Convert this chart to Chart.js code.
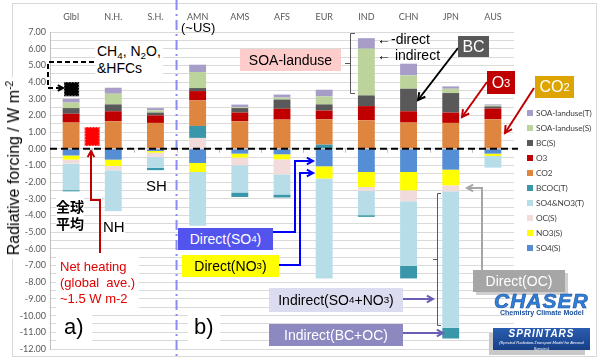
<!DOCTYPE html>
<html>
<head>
<meta charset="utf-8">
<script src="https://cdn.jsdelivr.net/npm/chart.js@4"></script>
<style>
html,body{margin:0;padding:0;background:#fff;}
#wrap{position:relative;width:600px;height:360px;overflow:hidden;background:#fff;font-family:"Liberation Sans",Arial,sans-serif;}
#frame{position:absolute;left:12px;top:3px;width:583px;height:352px;border:1px solid #d9d9d9;}
canvas{position:absolute;left:0;top:0;}
.t{position:absolute;white-space:nowrap;line-height:1;}
.box{position:absolute;display:flex;align-items:center;justify-content:center;white-space:nowrap;font-size:14px;}
sub{font-size:0.7em;vertical-align:-0.3em;line-height:0;}
sup{font-size:0.65em;vertical-align:0.55em;line-height:0;}
#ytitle{position:absolute;left:14px;top:168px;transform:translate(-50%,-50%) rotate(-90deg);font-size:16px;white-space:nowrap;background:#fff;padding:0 3px;line-height:18px;}
.lg{position:absolute;left:527px;font-family:Lato,"Liberation Sans",sans-serif;font-size:8.3px;color:#404040;white-space:nowrap;line-height:10px;letter-spacing:-0.1px;}
.lg i{display:inline-block;width:6px;height:6px;margin-right:3px;vertical-align:0px;}
.wb{background:#fff;}
</style>
</head>
<body>
<div id="wrap">
<div id="frame"></div>
<canvas id="c" width="600" height="360"></canvas>
<div id="ytitle">Radiative forcing / W m<sup>-2</sup></div>

<div class="t wb" style="left:95px;top:42px;font-size:14px;padding:1px 2px;line-height:17px;">CH<sub>4</sub>, N<sub>2</sub>O,<br>&amp;HFCs</div>
<div class="t" style="left:181px;top:21px;font-size:13px;">(~US)</div>
<div class="t wb" style="left:56px;top:198px;font-size:14px;font-weight:bold;font-family:'Noto Sans CJK JP';line-height:17px;">全球<br>平均</div>
<div class="t wb" style="left:103px;top:219px;font-size:15px;">NH</div>
<div class="t wb" style="left:146px;top:178px;font-size:15px;">SH</div>
<div class="t wb" style="left:56px;top:257px;font-size:13px;color:#e00000;line-height:16px;padding:2px 4px 4px 4px;">Net heating<br>(global&nbsp; ave.)<br>~1.5 W m-2</div>
<div class="t wb" style="left:56px;top:312px;font-size:22px;padding:4px 8px;">a)</div>
<div class="t wb" style="left:188px;top:312px;font-size:22px;padding:4px 6px;">b)</div>
<div class="t" style="left:377px;top:32px;font-size:14px;">←-direct</div>
<div class="t" style="left:377px;top:48px;font-size:14px;">← indirect</div>

<div class="box" style="left:240px;top:49px;width:101px;height:22px;background:#ffcccc;">SOA-landuse</div>
<div class="box" style="left:458px;top:36px;width:31px;height:21px;background:#595959;color:#fff;font-size:16px;">BC</div>
<div class="box" style="left:487px;top:71px;width:28px;height:23px;background:#c00000;color:#fff;font-size:16px;">O<sub>3</sub></div>
<div class="box" style="left:535px;top:76px;width:39px;height:22px;background:#dea500;color:#fff;font-size:16px;">CO<sub>2</sub></div>
<div class="box" style="left:178px;top:228px;width:95px;height:22px;background:#5353ee;color:#fff;">Direct(SO<sub>4</sub>)</div>
<div class="box" style="left:182px;top:255px;width:97px;height:22px;background:#ffff00;color:#000;">Direct(NO<sub>3</sub>)</div>
<div class="box" style="left:269px;top:288px;width:134px;height:24px;background:#dcdcf0;color:#000;">Indirect(SO<sub>4</sub>+NO<sub>3</sub>)</div>
<div class="box" style="left:269px;top:324px;width:134px;height:22px;background:#8c88c0;color:#fff;">Indirect(BC+OC)</div>
<div class="box" style="left:473px;top:270px;width:92px;height:22px;background:#a6a6a6;color:#fff;box-shadow:3px 3px 0 #cfcfcf;">Direct(OC)</div>

<div class="t" style="left:494px;top:290px;font-size:21px;font-weight:bold;font-style:italic;color:#2f7fd8;letter-spacing:1px;-webkit-text-stroke:0.6px #1a4f9a;">CHASER</div>
<div class="t" style="left:500px;top:309px;font-size:7px;font-weight:bold;color:#1a4f9a;">Chemistry Climate Model</div>
<div style="position:absolute;left:489px;top:333px;width:96px;height:22px;background:#c8c8c8;"></div>
<div style="position:absolute;left:493px;top:328px;width:97px;height:22px;background:linear-gradient(#2a5db0,#173f85);color:#fff;text-align:center;">
  <div style="font-size:10px;font-weight:bold;font-style:italic;letter-spacing:1px;line-height:12px;">SPRINTARS</div>
  <div style="font-size:4px;font-style:italic;line-height:6px;">(Spectral Radiation-Transport Model for Aerosol Species)</div>
</div>

<div class="lg" style="top:108px;"><i style="background:#a89cc8"></i>SOA-landuse(T)</div>
<div class="lg" style="top:123px;"><i style="background:#bcd49c"></i>SOA-landuse(S)</div>
<div class="lg" style="top:138px;"><i style="background:#595959"></i>BC(S)</div>
<div class="lg" style="top:153px;"><i style="background:#c00000"></i>O3</div>
<div class="lg" style="top:168px;"><i style="background:#de8540"></i>CO2</div>
<div class="lg" style="top:183px;"><i style="background:#3a97a9"></i>BCOC(T)</div>
<div class="lg" style="top:198px;"><i style="background:#b7dde8"></i>SO4&amp;NO3(T)</div>
<div class="lg" style="top:213px;"><i style="background:#f2dcdb"></i>OC(S)</div>
<div class="lg" style="top:228px;"><i style="background:#ffff00"></i>NO3(S)</div>
<div class="lg" style="top:243px;"><i style="background:#558ed5"></i>SO4(S)</div>
</div>

<script>
// ---- data ----
const categories = ['Glbl','N.H.','S.H.','AMN','AMS','AFS','EUR','IND','CHN','JPN','AUS'];
const SO4_S   = [-0.40,-0.65,-0.13,-0.85,-0.29,-0.33,-1.05,-1.39,-1.39,-1.25,-0.29];
const NO3_S   = [-0.25,-0.38,-0.10,-0.54,-0.24,-0.30,-0.73,-0.90,-1.10,-0.94,-0.14];
const OC_S    = [-0.24,-0.26,-0.26, 0.65,-0.46,-0.90, 0.00,-0.24,-0.65,-0.36, 0.00];
const SO4NO3_T= [-1.59,-2.45,-0.65,-3.22,-1.63,-1.21,-5.99,-1.45,-3.88,-8.18,-0.70];
const BCOC_T  = [-0.07, 0.00,-0.14, 0.72,-0.27,-0.18, 0.25,-0.10,-0.75,-0.64, 0.00];
const CO2     = [ 1.57, 1.65, 1.55, 1.53, 1.65, 1.75, 1.52, 1.71, 1.57, 1.55, 1.77];
const O3      = [ 0.53, 0.60, 0.45, 0.56, 0.52, 0.65, 0.52, 0.85, 0.68, 0.62, 0.64];
const BC_S    = [ 0.34, 0.41, 0.17, 0.18, 0.27, 0.55, 0.37, 0.64, 1.35, 1.17, 0.13];
const SOA_S   = [ 0.33, 0.64, 0.13, 0.96, 0.06, 0.12, 0.48, 2.80, 0.80, 0.26, 0.06];
const SOA_T   = [ 0.23, 0.36, 0.14, 0.44, 0.15, 0.18, 0.40, 0.63, 0.70, 0.14, 0.06];
// GHG (CH4,N2O,HFCs) box on Glbl and net heating box (W m-2)
const ghgBox = [3.15, 4.0];
const netHeatBox = [0.17, 1.3];
const yMin = -12, yMax = 7, yStep = 0.5;

const series = [
  ['SO4(S)', SO4_S, '#558ed5'],
  ['NO3(S)', NO3_S, '#ffff00'],
  ['OC(S)', OC_S, '#f2dcdb'],
  ['SO4&NO3(T)', SO4NO3_T, '#b7dde8'],
  ['BCOC(T)', BCOC_T, '#3a97a9'],
  ['CO2', CO2, '#de8540'],
  ['O3', O3, '#c00000'],
  ['BC(S)', BC_S, '#595959'],
  ['SOA-landuse(S)', SOA_S, '#bcd49c'],
  ['SOA-landuse(T)', SOA_T, '#a89cc8'],
];

function arrowHead(ctx, x1, y1, x2, y2, s){
  const a = Math.atan2(y2-y1, x2-x1);
  ctx.beginPath();
  ctx.moveTo(x2 - s*Math.cos(a-0.5), y2 - s*Math.sin(a-0.5));
  ctx.lineTo(x2, y2);
  ctx.lineTo(x2 - s*Math.cos(a+0.5), y2 - s*Math.sin(a+0.5));
  ctx.stroke();
}
function poly(ctx, pts, color, w, head, dash){
  ctx.save();
  ctx.strokeStyle = color; ctx.lineWidth = w; ctx.setLineDash(dash||[]);
  ctx.lineJoin='miter';
  ctx.beginPath();
  pts.forEach((p,i)=> i? ctx.lineTo(p[0],p[1]) : ctx.moveTo(p[0],p[1]));
  ctx.stroke();
  ctx.setLineDash([]);
  if(head){ const n=pts.length; arrowHead(ctx, pts[n-2][0], pts[n-2][1], pts[n-1][0], pts[n-1][1], head); }
  ctx.restore();
}

const decor = {
  id:'decor',
  beforeDatasetsDraw(chart){
    const ctx = chart.ctx, x = chart.scales.x;
    const xd = (x.getPixelForValue(2)+x.getPixelForValue(3))/2;
    poly(ctx, [[xd,0],[xd,360]], '#8c8cf5', 2, 0, [10,4,2,4]);
  },
  afterDatasetsDraw(chart){
    const ctx = chart.ctx, x = chart.scales.x, y = chart.scales.y, ca = chart.chartArea;
    const y0 = y.getPixelForValue(0);
    ctx.save(); ctx.strokeStyle='#bfbfbf'; ctx.lineWidth=1;
    for(let i=1;i<categories.length;i++){
      const xx = Math.round((x.getPixelForValue(i-1)+x.getPixelForValue(i))/2)+0.5;
      ctx.beginPath(); ctx.moveTo(xx,y0); ctx.lineTo(xx,y0+4); ctx.stroke();
    }
    ctx.restore();
    poly(ctx, [[ca.left,y0],[ca.right+4,y0]], '#000', 2, 0, [7,4]);
    const gx = x.getPixelForValue(0);
    const gy1 = y.getPixelForValue(ghgBox[1]), gy0 = y.getPixelForValue(ghgBox[0]);
    ctx.save();
    ctx.fillStyle='#000'; ctx.fillRect(gx-7, gy1, 15, gy0-gy1);
    ctx.strokeStyle='#777'; ctx.setLineDash([1.5,1.5]); ctx.lineWidth=1;
    ctx.strokeRect(gx-7+0.5, gy1+0.5, 14, gy0-gy1-1);
    const nx = (x.getPixelForValue(0)+x.getPixelForValue(1))/2;
    const ny1 = y.getPixelForValue(netHeatBox[1]), ny0 = y.getPixelForValue(netHeatBox[0]);
    ctx.fillStyle='#ff0000'; ctx.fillRect(nx-7.5, ny1, 15, ny0-ny1);
    ctx.strokeStyle='#ff9a9a'; ctx.strokeRect(nx-7.5+0.5, ny1+0.5, 14, ny0-ny1-1);
    ctx.restore();
    poly(ctx, [[94,62],[48,62],[48,88],[63,88]], '#000', 2, 6, [5,3]);
    poly(ctx, [[100,253],[100,200],[91,200],[91,151]], '#c00000', 2, 7);
    poly(ctx, [[355,33.5],[350.5,33.5],[350.5,93.5],[355,93.5]], '#595959', 1);
    poly(ctx, [[350.5,63.5],[345,63.5]], '#595959', 1);
    poly(ctx, [[458,48],[418,100]], '#000', 2, 8);
    poly(ctx, [[487,82],[462,117]], '#c00000', 2, 8);
    poly(ctx, [[534,88],[505,133]], '#c00000', 2, 8);
    poly(ctx, [[273,232],[295,232],[295,161],[313,161]], '#0000ff', 2, 7);
    poly(ctx, [[279,265],[300,265],[300,173],[313,173]], '#0000ff', 2, 7);
    poly(ctx, [[403,299],[433,299]], '#6a5fb5', 2, 7);
    poly(ctx, [[403,333],[443,333]], '#6a5fb5', 2, 7);
    poly(ctx, [[441,193.5],[437.5,193.5],[437.5,325.5],[441,325.5]], '#595959', 1);
    poly(ctx, [[437.5,259.5],[433,259.5]], '#595959', 1);
    poly(ctx, [[482,270],[482,188],[467,188]], '#a6a6a6', 2, 7);
  }
};

new Chart(document.getElementById('c'), {
  type:'bar',
  data:{
    labels: categories,
    datasets: series.map(s=>({label:s[0], data:s[1], backgroundColor:s[2], borderWidth:0, barPercentage:0.4, categoryPercentage:1.0}))
  },
  options:{
    responsive:false, animation:false, devicePixelRatio:1,
    layout:{padding:{left:0,right:86,top:0,bottom:11}},
    plugins:{legend:{display:false}, tooltip:{enabled:false}},
    scales:{
      x:{position:'top', stacked:true,
         grid:{display:false, drawTicks:false}, border:{display:false},
         ticks:{color:'#595959', font:{family:'Lato', size:9}, padding:10, maxRotation:0},
         afterFit(s){ s.height = 32; }},
      y:{stacked:true, min:yMin, max:yMax,
         ticks:{stepSize:yStep, autoSkip:false, color:'#595959', font:{family:'Lato', size:9}, padding:4,
                callback:(v)=> Math.abs(v-Math.round(v))<1e-6 ? Number(v).toFixed(2) : ''},
         grid:{color:'#dadada', drawTicks:false},
         border:{display:true, color:'#bfbfbf'},
         afterFit(s){ s.width = 50; }}
    }
  },
  plugins:[decor]
});
</script>
</body>
</html>
